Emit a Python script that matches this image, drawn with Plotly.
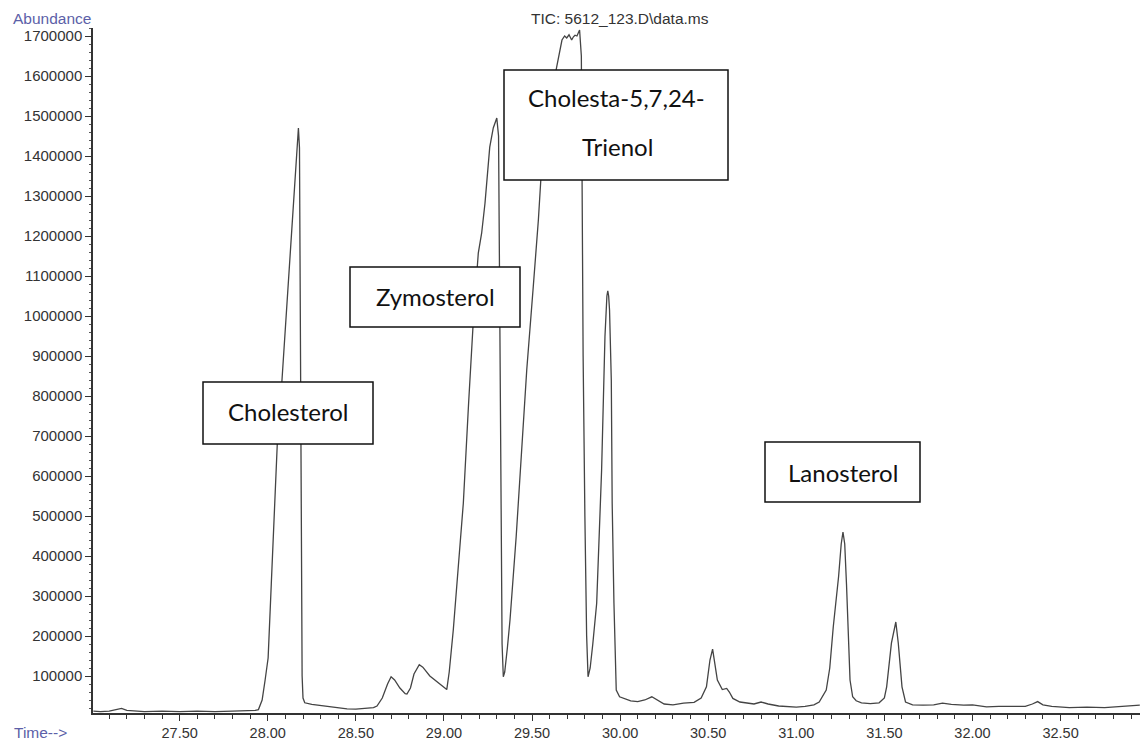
import plotly.graph_objects as go

# Retention time (min) and abundance
time_min = [
    27.01, 27.05, 27.10, 27.14, 27.17, 27.20, 27.25, 27.30, 27.40, 27.50, 27.60, 27.70, 27.80, 27.90,
    27.93, 27.947, 27.968, 27.985, 28.002, 28.02, 28.04, 28.054, 28.08, 28.10, 28.12, 28.14, 28.16,
    28.174, 28.18, 28.185, 28.19, 28.195, 28.20, 28.21, 28.25, 28.30, 28.35, 28.40, 28.45, 28.50,
    28.55, 28.60, 28.62, 28.65, 28.68, 28.70, 28.72, 28.75, 28.78, 28.79, 28.81, 28.83, 28.86, 28.88,
    28.92, 28.96, 29.00, 29.016, 29.03, 29.053, 29.08, 29.11, 29.14, 29.167, 29.195, 29.214, 29.233,
    29.26, 29.28, 29.30, 29.31, 29.315, 29.32, 29.325, 29.33, 29.337, 29.345, 29.36, 29.375, 29.41,
    29.44, 29.47, 29.507, 29.536, 29.555, 29.58, 29.61, 29.64, 29.66, 29.67, 29.685, 29.697, 29.71,
    29.725, 29.735, 29.744, 29.755, 29.77, 29.78, 29.785, 29.79, 29.80, 29.81, 29.818, 29.83, 29.845,
    29.867, 29.895, 29.908, 29.914, 29.925, 29.93, 29.935, 29.94, 29.95, 29.955, 29.965, 29.978,
    29.997, 30.02, 30.06, 30.10, 30.14, 30.18, 30.21, 30.25, 30.30, 30.36, 30.42, 30.46, 30.49,
    30.51, 30.525, 30.54, 30.552, 30.58, 30.605, 30.62, 30.64, 30.68, 30.72, 30.76, 30.80, 30.84,
    30.90, 30.95, 31.00, 31.05, 31.10, 31.13, 31.17, 31.19, 31.21, 31.24, 31.255, 31.265, 31.275,
    31.285, 31.295, 31.305, 31.32, 31.34, 31.37, 31.42, 31.47, 31.50, 31.513, 31.54, 31.565, 31.579,
    31.60, 31.62, 31.66, 31.72, 31.78, 31.83, 31.88, 31.95, 32.00, 32.08, 32.15, 32.23, 32.30,
    32.34, 32.37, 32.40, 32.45, 32.55, 32.65, 32.75, 32.85, 32.95,
]
abundance = [
    12000, 11000, 12000, 16000, 19000, 14000, 12000, 11000, 12000, 11000, 12000, 11000, 12000, 13000,
    14000, 16000, 40000, 90000, 145000, 330000, 530000, 680000, 835000, 970000, 1105000, 1240000, 1375000,
    1470000, 1420000, 1000000, 400000, 100000, 45000, 33000, 29000, 26000, 23000, 20000, 18000, 17000,
    19000, 21000, 25000, 45000, 80000, 98000, 90000, 70000, 56000, 55000, 70000, 105000, 128000, 122000,
    100000, 85000, 72000, 66000, 110000, 215000, 365000, 532000, 782000, 990000, 1157000, 1207000, 1282000,
    1422000, 1470000, 1495000, 1450000, 1100000, 700000, 400000, 180000, 98000, 110000, 170000, 240000, 448000,
    657000, 865000, 1073000, 1240000, 1377000, 1460000, 1550000, 1623000, 1673000, 1690000, 1700000, 1695000, 1703000,
    1690000, 1698000, 1702000, 1700000, 1715000, 1650000, 1300000, 900000, 500000, 200000, 98000, 120000, 180000,
    282000, 615000, 865000, 948000, 1050000, 1063000, 1050000, 1015000, 840000, 532000, 282000, 65000,
    48000, 44000, 38000, 36000, 40000, 48000, 40000, 30000, 28000, 32000, 34000, 45000, 73000,
    140000, 167000, 120000, 90000, 66000, 69000, 60000, 44000, 35000, 32000, 30000, 35000, 30000,
    25000, 23000, 22000, 24000, 28000, 35000, 65000, 120000, 223000, 348000, 430000, 460000, 430000,
    330000, 223000, 90000, 48000, 38000, 33000, 31000, 33000, 45000, 73000, 182000, 235000, 182000,
    73000, 35000, 28000, 27000, 28000, 32000, 29000, 27000, 28000, 23000, 24000, 23000, 24000,
    30000, 36000, 28000, 24000, 21000, 22000, 21000, 24000, 27000,
]

x_tick_vals = [27.5, 28.0, 28.5, 29.0, 29.5, 30.0, 30.5, 31.0, 31.5, 32.0, 32.5]
x_tick_text = ["27.50", "28.00", "28.50", "29.00", "29.50", "30.00", "30.50", "31.00", "31.50", "32.00", "32.50"]
y_tick_vals = [100000 * k for k in range(1, 18)]
y_tick_text = [str(v) for v in y_tick_vals]

peak_labels = ["Cholesterol", "Zymosterol", "Cholesta-5,7,24-", "Trienol", "Lanosterol"]

W, H = 1140, 742
ML, MR, MT, MB = 93, 0, 28, 29
PW, PH = W - ML - MR, H - MT - MB


def px(xp):
    return (xp - ML) / PW


def py(yp):
    return (H - MB - yp) / PH


fig = go.Figure()
fig.add_trace(go.Scatter(
    x=time_min, y=abundance, mode="lines",
    line=dict(color="#444444", width=1.3),
    hoverinfo="skip", showlegend=False,
))

tick_font = dict(family="Liberation Sans, Arial, sans-serif", size=15, color="#333333")

fig.update_xaxes(
    range=[27.008, 32.951], showgrid=False, zeroline=False, automargin=False,
    showline=True, linecolor="#333333", linewidth=1.5,
    tickmode="array", tickvals=x_tick_vals, ticktext=x_tick_text,
    ticks="outside", ticklen=6, tickwidth=1.3, tickcolor="#333333",
    minor=dict(dtick=0.1, tick0=27.0, ticks="outside", ticklen=4, tickwidth=1.2, tickcolor="#333333"),
    tickfont=dict(family="Liberation Sans, Arial, sans-serif", size=14.5, color="#333333"),
)
fig.update_yaxes(
    range=[7500, 1720000], showgrid=False, zeroline=False, automargin=False,
    showline=True, linecolor="#333333", linewidth=1.5,
    tickmode="array", tickvals=y_tick_vals, ticktext=y_tick_text,
    ticks="outside", ticklen=6, tickwidth=1.3, tickcolor="#333333",
    minor=dict(dtick=20000, tick0=0, ticks="outside", ticklen=2, tickwidth=1, tickcolor="#555555"),
    tickfont=tick_font,
)

label_font = dict(family="Lato, Open Sans, sans-serif", size=24, color="#111111")
boxes = [
    (203, 382, 373, 444),
    (350, 267, 520, 327),
    (504, 70, 728, 180),
    (765, 442, 920, 502),
]
label_pos = [(288, 412), (435, 296), (616, 98), (617, 146), (843, 472)]
for (x0, y0, x1, y1) in boxes:
    fig.add_shape(type="rect", xref="paper", yref="paper",
                  x0=px(x0), x1=px(x1), y0=py(y1), y1=py(y0),
                  line=dict(color="#111111", width=1.5), fillcolor="white", layer="above")
for (tx, ty), lab in zip(label_pos, peak_labels):
    fig.add_annotation(xref="paper", yref="paper", x=px(tx), y=py(ty), text=lab,
                       showarrow=False, font=label_font, align="center",
                       xanchor="center", yanchor="middle")

blue = "#5c5fa8"
fig.add_annotation(xref="paper", yref="paper", x=px(52), y=py(18), text="Abundance",
                   showarrow=False, font=dict(family="Liberation Sans, Arial", size=15.5, color=blue),
                   xanchor="center", yanchor="middle")
fig.add_annotation(xref="paper", yref="paper", x=px(12), y=py(732), text="Time-->",
                   showarrow=False, font=dict(family="Liberation Sans, Arial", size=15.5, color=blue),
                   xanchor="left", yanchor="middle")
fig.add_annotation(xref="paper", yref="paper", x=px(620), y=py(18), text="TIC: 5612_123.D\\data.ms",
                   showarrow=False, font=dict(family="Liberation Sans, Arial", size=15.5, color="#333333"),
                   xanchor="center", yanchor="middle")

fig.update_layout(
    width=W, height=H,
    margin=dict(l=ML, r=MR, t=MT, b=MB, pad=0),
    paper_bgcolor="white", plot_bgcolor="white",
    showlegend=False,
)

fig.write_html("out.html", config={"displayModeBar": False},
               post_script="document.body.style.margin='0';document.body.style.padding='0';")
